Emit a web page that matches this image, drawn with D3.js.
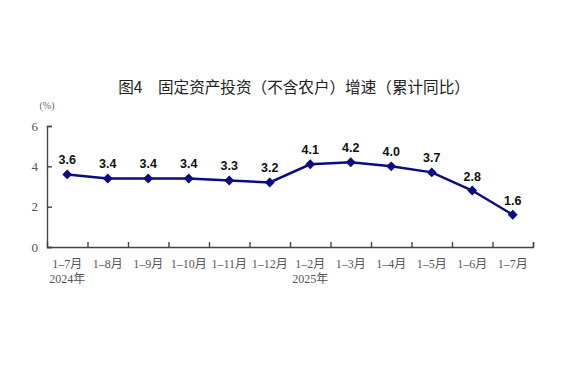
<!DOCTYPE html>
<html>
<head>
<meta charset="utf-8">
<script src="https://cdn.jsdelivr.net/npm/d3@7"></script>
<style>
  body { margin: 0; background: #fff; }
</style>
</head>
<body>
<script>
// data
const months = ["1–7月", "1–8月", "1–9月", "1–10月", "1–11月", "1–12月", "1–2月", "1–3月", "1–4月", "1–5月", "1–6月", "1–7月"];
const growth = [3.6, 3.4, 3.4, 3.4, 3.3, 3.2, 4.1, 4.2, 4.0, 3.7, 2.8, 1.6];
const yearLabels = [{idx: 0, text: "2024年"}, {idx: 6, text: "2025年"}];
const yTicks = [0, 2, 4, 6];

const width = 572, height = 373;
const plotLeft = 47, plotRight = 533, plotTop = 126, plotBottom = 247;

const svg = d3.select("body").append("svg")
    .attr("width", width)
    .attr("height", height);

const x = d3.scaleBand().domain(d3.range(months.length)).range([plotLeft, plotRight]);
const y = d3.scaleLinear().domain([0, 6]).range([plotBottom, plotTop]);

// title
svg.append("text")
    .attr("x", 294).attr("y", 93)
    .attr("text-anchor", "middle")
    .style("font-family", "'Noto Sans CJK SC', sans-serif")
    .style("font-size", "15.6px")
    .style("fill", "#222")
    .text("图4　固定资产投资（不含农户）增速（累计同比）");

svg.append("text")
    .attr("x", 47).attr("y", 109)
    .attr("text-anchor", "middle")
    .style("font-family", "'Liberation Serif', serif")
    .style("font-size", "10px")
    .style("fill", "#666")
    .text("(%)");

// y axis
const yAxis = d3.axisLeft(y).tickValues(yTicks).tickSize(-5).tickPadding(9).tickFormat(d3.format("d"));
const gy = svg.append("g").attr("transform", `translate(${plotLeft},0)`).call(yAxis);
gy.select(".domain").attr("stroke", "#444").attr("stroke-width", 1.4);
gy.selectAll(".tick line").attr("stroke", "#444").attr("stroke-width", 1.4);
gy.selectAll(".tick text")
    .style("font-family", "'Liberation Serif', serif")
    .style("font-size", "13px")
    .style("fill", "#555");

// x axis: ticks between categories
const xBound = d3.scaleLinear().domain([0, months.length]).range([plotLeft, plotRight]);
const xAxis = d3.axisBottom(xBound).tickValues(d3.range(1, months.length + 1)).tickSize(-5).tickFormat("");
const gx = svg.append("g").attr("transform", `translate(0,${plotBottom})`).call(xAxis);
gx.select(".domain").attr("stroke", "#444").attr("stroke-width", 1.4);
gx.selectAll(".tick line").attr("stroke", "#444").attr("stroke-width", 1.4);

svg.selectAll(".mlabel").data(months).join("text")
    .attr("class", "mlabel")
    .attr("x", (d, i) => x(i) + x.bandwidth() / 2)
    .attr("y", 268)
    .attr("text-anchor", "middle")
    .style("font-family", "'Liberation Serif', 'Noto Sans CJK SC', serif")
    .style("font-size", "12px")
    .style("fill", "#555")
    .text(d => d);

svg.selectAll(".ylabel").data(yearLabels).join("text")
    .attr("class", "ylabel")
    .attr("x", d => x(d.idx) + x.bandwidth() / 2)
    .attr("y", 283)
    .attr("text-anchor", "middle")
    .style("font-family", "'Liberation Serif', 'Noto Sans CJK SC', serif")
    .style("font-size", "12px")
    .style("fill", "#555")
    .text(d => d.text);

// line
const line = d3.line()
    .x((d, i) => x(i) + x.bandwidth() / 2)
    .y(d => y(d));

svg.append("path")
    .datum(growth)
    .attr("fill", "none")
    .attr("stroke", "#0a0a85")
    .attr("stroke-width", 2.5)
    .attr("d", line);

svg.selectAll(".pt").data(growth).join("path")
    .attr("class", "pt")
    .attr("transform", (d, i) => `translate(${x(i) + x.bandwidth() / 2},${y(d)}) rotate(45)`)
    .attr("d", "M-3.5,-3.5H3.5V3.5H-3.5Z")
    .attr("fill", "#0a0a85");

svg.selectAll(".val").data(growth).join("text")
    .attr("class", "val")
    .attr("x", (d, i) => x(i) + x.bandwidth() / 2)
    .attr("y", d => y(d) - 10)
    .attr("text-anchor", "middle")
    .style("font-family", "'Liberation Sans', Arial, sans-serif")
    .style("font-weight", "bold")
    .style("font-size", "12.5px")
    .style("fill", "#111")
    .text(d => d.toFixed(1));
</script>
</body>
</html>
